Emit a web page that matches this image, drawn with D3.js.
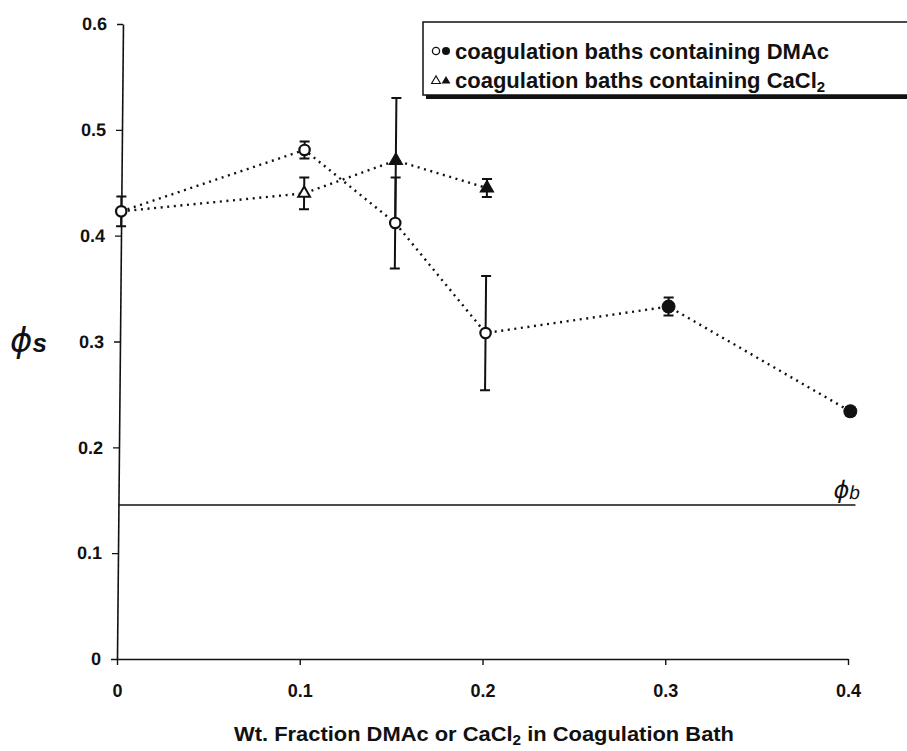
<!DOCTYPE html>
<html>
<head>
<meta charset="utf-8">
<script src="https://cdn.jsdelivr.net/npm/d3@7"></script>
<style>
  html, body { margin: 0; padding: 0; background: #fff; }
  svg { display: block; }
  .tick text { font-family: "Liberation Sans", Arial, sans-serif; font-weight: bold; }
</style>
</head>
<body>
<svg id="chart" width="907" height="751"></svg>
<script>
// Surface volume fraction vs. additive content of the coagulation bath
const dmacX   = [0, 0.1, 0.15, 0.2, 0.3, 0.4];
const dmacY   = [0.423, 0.481, 0.412, 0.308, 0.333, 0.234];
const dmacErr = [0.014, 0.008, 0.043, 0.054, 0.0085, 0.004];
const dmacFilled = [false, false, false, false, true, true];

// CaCl2 series shares the additive-free bath point at x = 0
const caclX   = [0, 0.1, 0.15, 0.2];
const caclY   = [0.423, 0.440, 0.471, 0.445];
const caclErr = [0, 0.015, 0.059, 0.0085];
const caclFilled = [null, false, true, true];

const phiB = 0.1455;

const xTicks = [0, 0.1, 0.2, 0.3, 0.4];
const yTicks = [0, 0.1, 0.2, 0.3, 0.4, 0.5, 0.6];
const xTickLabels = ["0", "0.1", "0.2", "0.3", "0.4"];
const yTickLabels = ["0", "0.1", "0.2", "0.3", "0.4", "0.5", "0.6"];

const legendLabels = ["coagulation baths containing DMAc", "coagulation baths containing CaCl"];

const svg = d3.select("#chart");
const FONT = '"Liberation Sans", Arial, sans-serif';
const PHI = "\u03D5";

const x = d3.scaleLinear().domain([0, 0.4]).range([117, 848]);
const y = d3.scaleLinear().domain([0, 0.6]).range([659, 24]);

// Plot body: slight lean of the vertical axis
const plot = svg.append("g")
  .attr("transform", `translate(0,659) skewX(-0.54) translate(0,-659)`);

// Axes
const yAxis = d3.axisLeft(y).tickValues(yTicks).tickSize(6).tickSizeOuter(0)
  .tickFormat((d, i) => yTickLabels[i]).tickPadding(10);
const gy = plot.append("g").attr("transform", `translate(${x(0)},0)`).call(yAxis);
gy.select(".domain").attr("stroke", "#111").attr("stroke-width", 1.6);
gy.selectAll(".tick line").attr("stroke", "#111").attr("stroke-width", 1.4);
gy.selectAll(".tick text").attr("font-size", 18).attr("fill", "#111");

const xAxis = d3.axisBottom(x).tickValues(xTicks).tickSize(6).tickSizeOuter(0)
  .tickFormat((d, i) => xTickLabels[i]).tickPadding(19);
const gx = svg.append("g").attr("transform", `translate(0,${y(0)})`).call(xAxis);
gx.select(".domain").attr("stroke", "#111").attr("stroke-width", 1.6);
gx.selectAll(".tick line").attr("stroke", "#111").attr("stroke-width", 1.4);
gx.selectAll(".tick text").attr("font-size", 18).attr("fill", "#111");

// Bulk fraction reference line
plot.append("line")
  .attr("x1", x(0)).attr("x2", x(0.4) + 6)
  .attr("y1", y(phiB)).attr("y2", y(phiB))
  .attr("stroke", "#111").attr("stroke-width", 1.6);

plot.append("text")
  .attr("x", x(0.4) - 16).attr("y", y(phiB) - 7)
  .attr("font-family", '"DejaVu Sans", sans-serif').attr("font-style", "italic")
  .attr("font-size", 24).attr("fill", "#111").text(PHI)
  .append("tspan").attr("font-family", FONT).attr("font-size", 19).attr("dy", 1).text("b");

// Dotted connecting lines
const line = d3.line().x(d => x(d[0])).y(d => y(d[1]));
function dotted(xs, ys) {
  plot.append("path")
    .datum(xs.map((v, i) => [v, ys[i]]))
    .attr("d", line)
    .attr("fill", "none").attr("stroke", "#111")
    .attr("stroke-width", 2.4)
    .attr("stroke-dasharray", "2,4.6")
    .attr("stroke-linecap", "butt");
}
dotted(caclX, caclY);
dotted(dmacX, dmacY);

// Error bars
function errorBars(xs, ys, es) {
  const g = plot.append("g").attr("stroke", "#111").attr("stroke-width", 2);
  xs.forEach((v, i) => {
    if (!es[i]) return;
    const cx = x(v), top = y(ys[i] + es[i]), bot = y(ys[i] - es[i]);
    g.append("line").attr("x1", cx).attr("x2", cx).attr("y1", top).attr("y2", bot);
    g.append("line").attr("x1", cx - 5).attr("x2", cx + 5).attr("y1", top).attr("y2", top);
    g.append("line").attr("x1", cx - 5).attr("x2", cx + 5).attr("y1", bot).attr("y2", bot);
  });
}
errorBars(caclX, caclY, caclErr);
errorBars(dmacX, dmacY, dmacErr);

// Markers
const tri = d3.symbol().type(d3.symbolTriangle);
caclX.forEach((v, i) => {
  if (caclFilled[i] === null) return;
  plot.append("path")
    .attr("d", tri.size(caclFilled[i] ? 80 : 60)())
    .attr("transform", `translate(${x(v)},${y(caclY[i])})`)
    .attr("fill", caclFilled[i] ? "#111" : "#fff")
    .attr("stroke", "#111").attr("stroke-width", caclFilled[i] ? 1 : 2);
});
dmacX.forEach((v, i) => {
  plot.append("circle")
    .attr("cx", x(v)).attr("cy", y(dmacY[i]))
    .attr("r", dmacFilled[i] ? 6.5 : 5.2)
    .attr("fill", dmacFilled[i] ? "#111" : "#fff")
    .attr("stroke", "#111").attr("stroke-width", dmacFilled[i] ? 1 : 2.2);
});

// Axis titles
const xt = svg.append("text")
  .attr("x", 484).attr("y", 741).attr("text-anchor", "middle")
  .attr("font-family", FONT).attr("font-weight", "bold")
  .attr("font-size", 20).attr("fill", "#111");
xt.append("tspan").text("Wt. Fraction DMAc or CaCl");
xt.append("tspan").attr("font-size", 14).attr("dy", 4).text("2");
xt.append("tspan").attr("dy", -4).text(" in Coagulation Bath");
xt.attr("textLength", 500).attr("lengthAdjust", "spacingAndGlyphs");

const ylab = svg.append("text")
  .attr("x", 10).attr("y", 352)
  .attr("font-family", '"DejaVu Sans", sans-serif').attr("font-style", "italic")
  .attr("font-size", 34).attr("fill", "#111").text(PHI);
ylab.append("tspan").attr("font-family", FONT).attr("font-weight", "bold")
  .attr("font-style", "italic").attr("font-size", 26).attr("dy", 0).text("s");

// Legend
const lg = svg.append("g");
lg.append("rect").attr("x", 426).attr("y", 25).attr("width", 500).attr("height", 74).attr("fill", "#111");
lg.append("rect").attr("x", 423).attr("y", 22).attr("width", 500).attr("height", 73)
  .attr("fill", "#fff").attr("stroke", "#111").attr("stroke-width", 1.5);

const rows = [59, 88];
// DMAc symbols
lg.append("circle").attr("cx", 436).attr("cy", rows[0] - 8).attr("r", 3.6)
  .attr("fill", "#fff").attr("stroke", "#111").attr("stroke-width", 1.3);
lg.append("circle").attr("cx", 446).attr("cy", rows[0] - 8).attr("r", 4).attr("fill", "#111");
// CaCl2 symbols
const smallTri = d3.symbol().type(d3.symbolTriangle).size(34);
lg.append("path").attr("d", smallTri()).attr("transform", `translate(436,${rows[1] - 7})`)
  .attr("fill", "#fff").attr("stroke", "#111").attr("stroke-width", 1.1);
lg.append("path").attr("d", smallTri()).attr("transform", `translate(446,${rows[1] - 7})`)
  .attr("fill", "#111");

legendLabels.forEach((t, i) => {
  const tx = lg.append("text").attr("x", 455).attr("y", rows[i])
    .attr("font-family", FONT).attr("font-weight", "bold").attr("font-size", 22)
    .attr("fill", "#111").text(t);
  if (i === 1) tx.append("tspan").attr("font-size", 15).attr("dy", 4).text("2");
});
</script>
</body>
</html>
